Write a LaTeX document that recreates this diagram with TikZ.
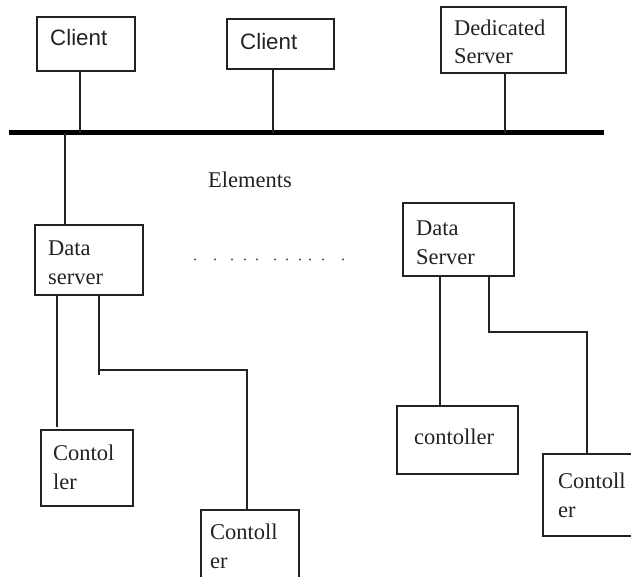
\documentclass[tikz,border=0pt]{standalone}
\usepackage{fontspec}
\setmainfont{Liberation Serif}
\newfontfamily\clientfont{Liberation Sans}
\definecolor{ink}{HTML}{222222}
\tikzset{
  boxn/.style={draw=ink,line width=1.6pt,fill=none,inner sep=0pt,outer sep=0pt,anchor=north west},
  txt/.style={inner sep=0pt,anchor=base west,align=left,text=ink,font=\fontsize{22.5}{28.5}\selectfont},
  sanstxt/.style={txt,font=\clientfont\fontsize{22.3}{28}\selectfont},
  conn/.style={draw=ink,line width=1.6pt},
  busline/.style={draw=black,line width=5pt},
  dotmark/.style={fill=ink!80,draw=none}
}
\begin{document}
\begin{tikzpicture}[x=1pt,y=-1pt]
\useasboundingbox (0,0) rectangle (631,577);
\clip (0,0) rectangle (631,577);
% boxes
\node[boxn,minimum width=98pt,minimum height=54pt] (c1) at (37,17) {};
\node[boxn,minimum width=107pt,minimum height=50pt] (c2) at (227,19) {};
\node[boxn,minimum width=125pt,minimum height=66pt] (ded) at (441,7) {};
\node[boxn,minimum width=108pt,minimum height=70pt] (dsl) at (35,225) {};
\node[boxn,minimum width=111pt,minimum height=73pt] (dsr) at (403,203) {};
\node[boxn,minimum width=92pt,minimum height=76pt] (cl) at (41,430) {};
\node[boxn,minimum width=98pt,minimum height=90pt] (cb) at (201,510) {};
\node[boxn,minimum width=121pt,minimum height=68pt] (cm) at (397,406) {};
\node[boxn,minimum width=110pt,minimum height=82pt] (cr) at (543,454) {};
% texts
\node[sanstxt] (tc1) at (50,46) {Client};
\node[sanstxt] (tc2) at (240,50) {Client};
\node[txt] (tded) at (454,64) {Dedicated\\Server};
\node[txt] (tel) at (208,188) {Elements};
\node[txt] (tdsl) at (48,284) {Data\\server};
\node[txt] (tdsr) at (416,264) {Data\\Server};
\node[txt] (tcl) at (53,489) {Contol\\ler};
\node[txt] (tcb) at (210,568) {Contoll\\er};
\node[txt] (tcm) at (414,444) {contoller};
\node[txt] (tcr) at (558,517) {Contoll\\er};
% bus
\coordinate (busL) at (9,133);
\coordinate (busR) at (604,133);
\draw[busline] (busL) -- (busR);
% connector positions
\coordinate (x1) at (80,133);
\coordinate (x2) at (273,133);
\coordinate (x3) at (505,133);
\coordinate (x4) at (65,133);
\coordinate (a1) at (57,427);
\coordinate (a2) at (99,370);
\coordinate (a2s) at (99,375);
\coordinate (a3) at (247,370);
\coordinate (b1) at (440,406);
\coordinate (b2) at (489,332);
\coordinate (b3) at (587,332);
\draw[conn] (c1.south -| x1) -- (x1);
\draw[conn] (c2.south -| x2) -- (x2);
\draw[conn] (ded.south -| x3) -- (x3);
\draw[conn] (x4) -- (dsl.north -| x4);
\draw[conn] (dsl.south -| a1) -- (a1);
\draw[conn] (dsl.south -| a2) -- (a2s);
\draw[conn] (a2) -- (a3) -- (cb.north -| a3);
\draw[conn] (dsr.south -| b1) -- (cm.north -| b1);
\draw[conn] (dsr.south -| b2) -- (b2) -- (b3) -- (cr.north -| b3);
% dots
\foreach \px in {195,215,232,245,257,275,287,300,310,323,343}
  \fill[dotmark] (\px,259.5) circle (1.1pt);
\end{tikzpicture}
\end{document}
